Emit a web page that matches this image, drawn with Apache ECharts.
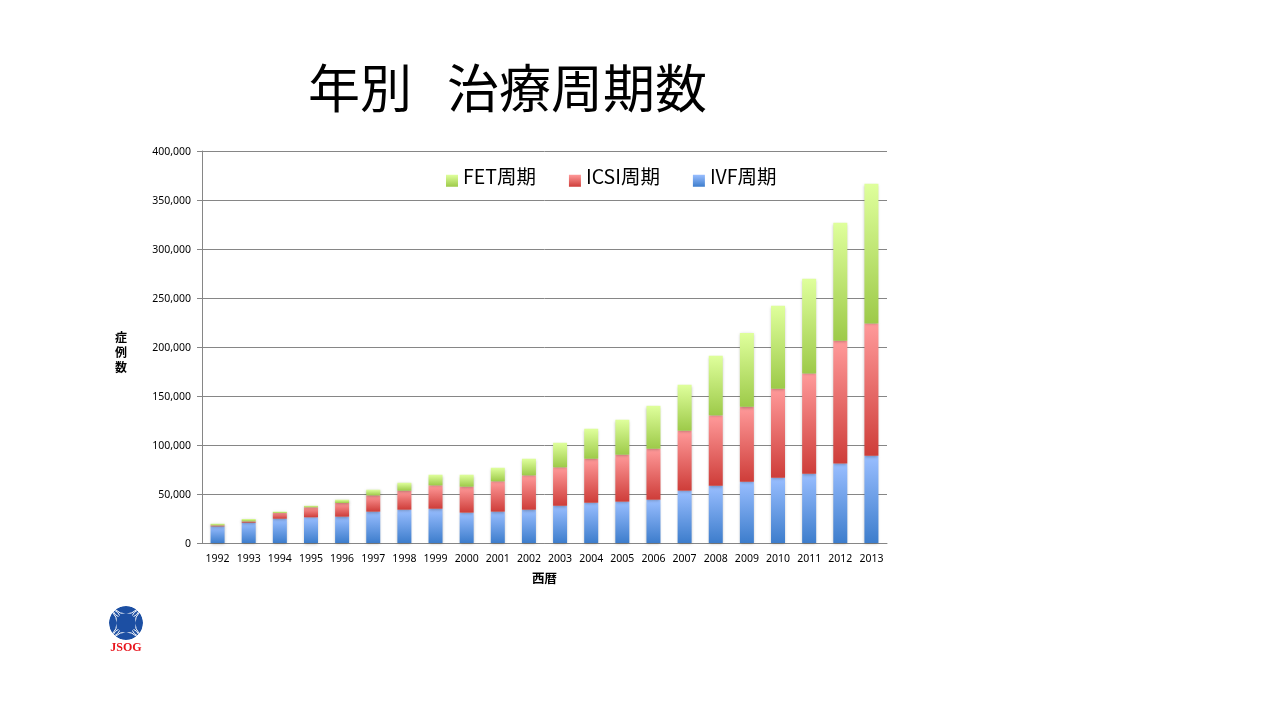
<!DOCTYPE html>
<html>
<head>
<meta charset="utf-8">
<title>年別 治療周期数</title>
<script src="https://cdn.jsdelivr.net/npm/echarts@6/dist/echarts.min.js"></script>
<style>
  html, body { margin: 0; padding: 0; background: #fff; }
  #chart { width: 1280px; height: 720px; }
</style>
</head>
<body>
<div id="chart"></div>
<script>
const years = ['1992', '1993', '1994', '1995', '1996', '1997', '1998', '1999', '2000', '2001', '2002',
  '2003', '2004', '2005', '2006', '2007', '2008', '2009', '2010', '2011', '2012', '2013']

// 読み取り値（各周期の症例数）
const ivfCycles = [17000, 20700, 24800, 26200, 26900, 32000, 34000, 35000, 31000, 32000, 34000,
  38000, 41100, 42200, 44200, 53400, 58500, 62600, 66600, 70700, 81000, 89000]
const icsiCycles = [1000, 1400, 5800, 10200, 13900, 16600, 19400, 23800, 26500, 30900, 35000,
  39200, 44900, 47900, 52000, 61200, 71700, 76400, 90800, 102300, 125500, 135100]
const fetCycles = [1700, 2400, 1400, 1600, 3400, 5800, 8100, 10900, 12200, 13900, 17000,
  25100, 30600, 35700, 43800, 46900, 60900, 75200, 84800, 96700, 120400, 142600]

const gradient = (top, bottom) => new echarts.graphic.LinearGradient(0, 0, 0, 1, [
  { offset: 0, color: top },
  { offset: 1, color: bottom }
])

const barSeries = (name, values, top, bottom) => ({
  name,
  type: 'bar',
  stack: 'cycles',
  barWidth: 14,
  data: values,
  itemStyle: {
    color: gradient(top, bottom),
    shadowColor: 'rgba(0,0,0,0.28)',
    shadowBlur: 3,
    shadowOffsetY: 1
  }
})

// JSOGのロゴ
const logoX = 126
const logoY = 623
const logoArc = (dx, dy) => ({
  type: 'circle',
  shape: { cx: logoX + dx, cy: logoY + dy, r: 15 },
  style: { fill: 'none', stroke: '#fff', lineWidth: 1 }
})

const cjk = '"Noto Sans CJK JP"'
const nameStyle = { fontFamily: cjk, fontSize: 12, fontWeight: 'bold', lineHeight: 15, color: '#000' }

const chart = echarts.init(document.getElementById('chart'))

chart.setOption({
  backgroundColor: '#fff',
  animation: false,
  title: {
    text: '年別   治療周期数',
    left: 303,
    top: 57,
    textStyle: {
      fontFamily: cjk,
      fontSize: 52,
      fontWeight: 'normal',
      color: '#000'
    }
  },
  legend: {
    data: ['FET周期', 'ICSI周期', 'IVF周期'],
    icon: 'rect',
    left: 441,
    top: 162,
    itemWidth: 12,
    itemHeight: 12,
    itemGap: 33,
    formatter: '{t|{name}}',
    textStyle: {
      rich: {
        t: {
          fontFamily: cjk,
          fontSize: 19.5,
          color: '#000',
          padding: [0, 0, 8, 0]
        }
      }
    }
  },
  grid: { left: 202, right: 393, top: 151, bottom: 177 },
  xAxis: {
    type: 'category',
    data: years,
    name: '西暦',
    nameLocation: 'middle',
    nameGap: 29,
    nameTextStyle: {
      fontFamily: cjk,
      fontSize: 12.5,
      fontWeight: 'bold',
      color: '#000'
    },
    axisLine: { lineStyle: { color: '#868686', width: 1 } },
    axisTick: { length: 5, lineStyle: { color: '#868686' } },
    axisLabel: {
      interval: 0,
      margin: 11,
      fontFamily: '"Noto Sans"',
      fontSize: 10.5,
      color: '#000'
    }
  },
  yAxis: {
    type: 'value',
    min: 0,
    max: 400000,
    interval: 50000,
    // 先頭の空行で文字を少し下げる
    name: '{gap| }\n{n|症}\n{n|例}\n{n|数}',
    nameLocation: 'middle',
    nameRotate: 0,
    nameGap: 75,
    nameTextStyle: {
      rich: {
        gap: { fontSize: 8, lineHeight: 10 },
        n: nameStyle
      }
    },
    axisLine: { show: true, lineStyle: { color: '#868686', width: 1 } },
    axisTick: { show: true, length: 5, lineStyle: { color: '#868686' } },
    splitLine: { lineStyle: { color: '#868686', width: 1 } },
    axisLabel: {
      margin: 11,
      formatter: v => `{v|${v.toLocaleString('en-US')}}`,
      rich: {
        v: {
          fontFamily: '"Noto Sans"',
          fontSize: 10.5,
          color: '#000',
          padding: [2, 0, 0, 0]
        }
      }
    }
  },
  series: [
    barSeries('IVF周期', ivfCycles, '#99BEFF', '#3D7DCC'),
    barSeries('ICSI周期', icsiCycles, '#FF9A9A', '#CE3D39'),
    barSeries('FET周期', fetCycles, '#DFFF9C', '#9DCA49')
  ],
  graphic: [
    {
      type: 'group',
      silent: true,
      children: [
        { type: 'circle', shape: { cx: logoX, cy: logoY, r: 17 }, style: { fill: '#1C4FA3' } },
        logoArc(-19, 0),
        logoArc(19, 0),
        logoArc(0, -19),
        logoArc(0, 19),
        logoArc(-24, 0),
        logoArc(24, 0),
        logoArc(0, -24),
        logoArc(0, 24),
        { type: 'circle', shape: { cx: logoX, cy: logoY, r: 24 }, style: { fill: 'none', stroke: '#fff', lineWidth: 14 } },
        { type: 'circle', shape: { cx: logoX, cy: logoY, r: 10 }, style: { fill: '#1C4FA3' } },
        {
          type: 'text',
          style: {
            x: logoX,
            y: 648,
            text: 'JSOG',
            align: 'center',
            verticalAlign: 'middle',
            fontFamily: '"Liberation Serif"',
            fontSize: 12,
            fontWeight: 'bold',
            fill: '#E8141C'
          }
        }
      ]
    }
  ]
})
</script>
</body>
</html>
